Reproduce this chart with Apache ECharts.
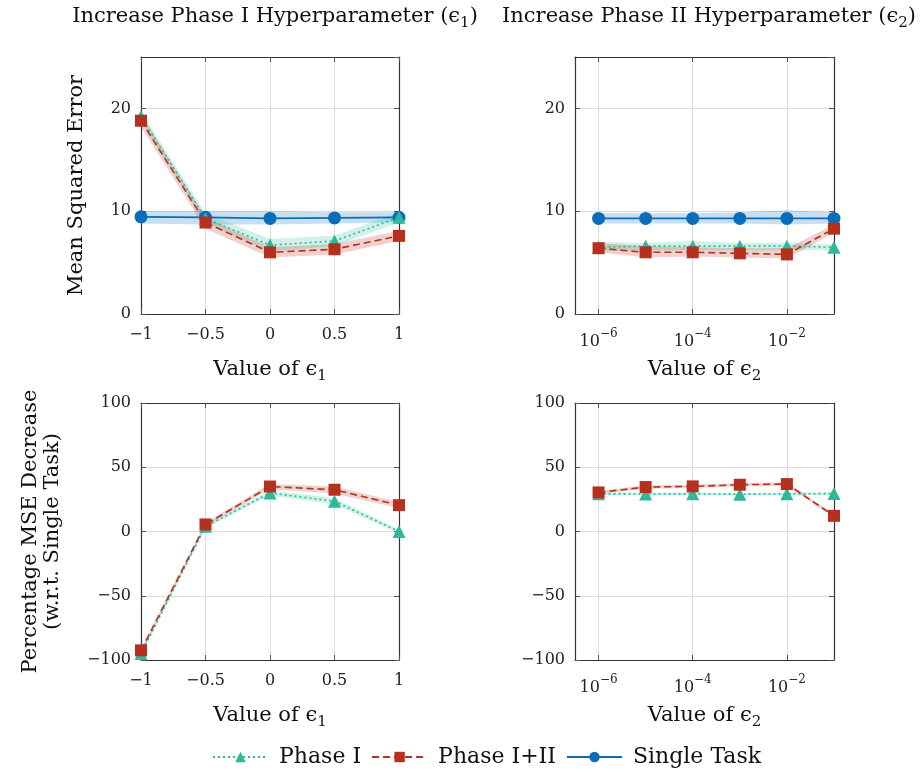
<!DOCTYPE html>
<html>
<head>
<meta charset="utf-8">
<script src="https://cdn.jsdelivr.net/npm/echarts@6/dist/echarts.min.js"></script>
<style>
  html, body { margin: 0; padding: 0; background: #fff; }
  #main { width: 920px; height: 772px; }
</style>
</head>
<body>
<div id="main"></div>
<script>
// x values
var epsOne = [-1, -0.5, 0, 0.5, 1];
var epsTwoExp = [-6, -5, -4, -3, -2, -1];   // log10 of epsilon 2
var epsTwoTicks = [-6, -4, -2];

// MSE vs eps1
var mseA_p1 = [19.2, 9.3, 6.7, 7.1, 9.4];
var mseA_p1Lo = [18.7, 8.8, 6.1, 6.6, 8.9];
var mseA_p1Hi = [19.7, 9.8, 7.3, 7.6, 9.9];
var mseA_p12 = [18.8, 8.9, 6.0, 6.3, 7.6];
var mseA_p12Lo = [18.2, 8.3, 5.5, 5.8, 7.1];
var mseA_p12Hi = [19.4, 9.4, 6.5, 6.8, 8.1];
var mseA_st = [9.45, 9.4, 9.3, 9.35, 9.4];
var mseA_stLo = [8.8, 8.7, 8.7, 8.8, 8.9];
var mseA_stHi = [10.0, 10.0, 10.0, 9.9, 9.9];

// MSE vs eps2
var mseB_p1 = [6.5, 6.6, 6.6, 6.6, 6.6, 6.5];
var mseB_p1Lo = [6.1, 6.2, 6.2, 6.2, 6.2, 6.2];
var mseB_p1Hi = [7.0, 6.9, 7.1, 6.9, 6.9, 6.8];
var mseB_p12 = [6.4, 6.0, 6.0, 5.9, 5.8, 8.3];
var mseB_p12Lo = [6.0, 5.5, 5.6, 5.5, 5.4, 7.9];
var mseB_p12Hi = [6.9, 6.6, 6.5, 6.4, 6.4, 8.7];
var mseB_st = [9.3, 9.3, 9.3, 9.3, 9.3, 9.3];
var mseB_stLo = [8.8, 8.8, 8.8, 8.8, 8.7, 8.8];
var mseB_stHi = [9.8, 9.8, 9.8, 9.9, 10.1, 9.9];

// % decrease vs eps1
var pctA_p1 = [-95, 4, 30, 23.5, 0];
var pctA_p1Lo = [-97, 2.5, 28, 21, -1.5];
var pctA_p1Hi = [-93, 5.5, 32, 26, 1.5];
var pctA_p12 = [-92.5, 5.5, 35, 32.5, 20.5];
var pctA_p12Lo = [-94, 4, 33, 29.5, 18];
var pctA_p12Hi = [-91, 7, 37, 35, 23];

// % decrease vs eps2
var pctB_p1 = [29.3, 29.2, 29.3, 29.0, 29.3, 29.5];
var pctB_p1Lo = [28.3, 28.2, 28.3, 28.0, 28.3, 28.5];
var pctB_p1Hi = [30.3, 30.2, 30.3, 30.0, 30.3, 30.5];
var pctB_p12 = [30.4, 34.6, 35.1, 36.4, 36.9, 12.2];
var pctB_p12Lo = [29.2, 33.2, 33.8, 35.0, 35.4, 10.8];
var pctB_p12Hi = [31.6, 36.0, 36.4, 37.8, 38.4, 13.6];

var FONT = 'DejaVu Serif';
var C_P1 = '#2bb99a', C_P12 = '#b5301e', C_ST = '#0a6db9';
var AXIS_C = '#333';

var grids = [
  {left: 141, top: 57, width: 258, height: 257},
  {left: 575, top: 57, width: 259, height: 257},
  {left: 141, top: 403, width: 258, height: 257},
  {left: 575, top: 403, width: 259, height: 257}
];

function minus(v) { return String(v).replace('-', '\u2212'); }

var nameRich = {
  n: {fontFamily: FONT, fontSize: 21, color: '#111', lineHeight: 25, verticalAlign: 'top'},
  s: {fontFamily: FONT, fontSize: 15, color: '#111', lineHeight: 25, verticalAlign: 'bottom'}
};

function xMain(i, logAxis) {
  var ax = {
    gridIndex: i, type: 'value', position: 'bottom',
    axisLine: {show: true, onZero: false, lineStyle: {color: AXIS_C, width: 1.2}},
    axisTick: {show: true, inside: true, length: 5, lineStyle: {color: '#555'}},
    splitLine: {show: true, lineStyle: {color: '#dcdcdc'}},
    axisLabel: {fontFamily: FONT, fontSize: 16, color: '#222', margin: 13},
    nameLocation: 'middle', nameGap: 45,
    nameTextStyle: {rich: nameRich}
  };
  if (logAxis) {
    ax.min = -6.5; ax.max = -1;
    ax.axisTick.customValues = epsTwoTicks;
    ax.axisLabel.customValues = epsTwoTicks;
    ax.axisLabel.margin = 14;
    ax.axisLabel.formatter = function (v) { return '{b|10}{p|\u2212' + Math.abs(v) + '}'; };
    ax.axisLabel.rich = {
      b: {fontFamily: FONT, fontSize: 16, color: '#222', lineHeight: 22, verticalAlign: 'bottom'},
      p: {fontFamily: FONT, fontSize: 12, color: '#222', lineHeight: 22, verticalAlign: 'top'}
    };
    ax.name = '{n|Value of \u03f5}{s|2}';
  } else {
    ax.min = -1; ax.max = 1; ax.interval = 0.5;
    ax.axisLabel.formatter = minus;
    ax.name = '{n|Value of \u03f5}{s|1}';
  }
  return ax;
}

function xMirror(i, logAxis) {
  var ax = {
    gridIndex: i, type: 'value', position: 'top',
    axisLine: {show: true, onZero: false, lineStyle: {color: AXIS_C, width: 1.2}},
    axisTick: {show: true, inside: true, length: 5, lineStyle: {color: '#555'}},
    axisLabel: {show: false}, splitLine: {show: false}
  };
  if (logAxis) {
    ax.min = -6.5; ax.max = -1;
    ax.axisTick.customValues = epsTwoTicks;
    ax.axisLabel.customValues = epsTwoTicks;
  } else {
    ax.min = -1; ax.max = 1; ax.interval = 0.5;
  }
  return ax;
}

function yAxes(i, pct, position, withLabels) {
  return {
    gridIndex: i, type: 'value', position: position,
    min: pct ? -100 : 0, max: pct ? 100 : 25, interval: pct ? 50 : 10,
    axisLine: {show: true, onZero: false, lineStyle: {color: AXIS_C, width: 1.2}},
    axisTick: {show: true, inside: true, length: 5, lineStyle: {color: '#555'}},
    splitLine: {show: withLabels, lineStyle: {color: '#dcdcdc'}},
    axisLabel: {show: withLabels, fontFamily: FONT, fontSize: 16, color: '#222', margin: 10,
      formatter: minus, showMaxLabel: pct}
  };
}

var xAxis = [xMain(0, false), xMain(1, true), xMain(2, false), xMain(3, true),
  xMirror(0, false), xMirror(1, true), xMirror(2, false), xMirror(3, true)];
var yAxis = [yAxes(0, false, 'left', true), yAxes(1, false, 'left', true),
  yAxes(2, true, 'left', true), yAxes(3, true, 'left', true),
  yAxes(0, false, 'right', false), yAxes(1, false, 'right', false),
  yAxes(2, true, 'right', false), yAxes(3, true, 'right', false)];

yAxis[0].name = 'Mean Squared Error';
yAxis[0].nameLocation = 'middle';
yAxis[0].nameGap = 54;
yAxis[0].nameTextStyle = {fontFamily: FONT, fontSize: 21, color: '#111'};
yAxis[2].name = 'Percentage MSE Decrease\n(w.r.t. Single Task)';
yAxis[2].nameLocation = 'middle';
yAxis[2].nameGap = 77;
yAxis[2].nameTextStyle = {fontFamily: FONT, fontSize: 21, color: '#111', lineHeight: 22};

function pairs(xs, ys) { return xs.map(function (x, k) { return [x, ys[k]]; }); }

var series = [];

// shaded spread drawn as one polygon through the axis scales
function band(i, xs, lo, hi, color) {
  series.push({
    type: 'custom', xAxisIndex: i, yAxisIndex: i, silent: true, z: 1,
    data: xs.map(function (x, k) { return [x, lo[k], hi[k]]; }),
    encode: {x: 0, y: [1, 2]},
    renderItem: function (params, api) {
      if (params.dataIndex !== 0) return;
      var pts = [], k;
      for (k = 0; k < xs.length; k++) pts.push(api.coord([api.value(0, k), api.value(2, k)]));
      for (k = xs.length - 1; k >= 0; k--) pts.push(api.coord([api.value(0, k), api.value(1, k)]));
      return {type: 'polygon', shape: {points: pts}, style: {fill: color, opacity: 0.22}};
    }
  });
}

function line(i, name, xs, ys, color, symbol, size, dash) {
  series.push({
    name: name, type: 'line', xAxisIndex: i, yAxisIndex: i,
    data: pairs(xs, ys), symbol: symbol, symbolSize: size,
    itemStyle: {color: color, borderWidth: 0},
    lineStyle: {color: color, width: 1.6, type: dash, cap: 'butt'},
    z: 3
  });
}

// panel A
band(0, epsOne, mseA_stLo, mseA_stHi, C_ST);
band(0, epsOne, mseA_p1Lo, mseA_p1Hi, C_P1);
band(0, epsOne, mseA_p12Lo, mseA_p12Hi, C_P12);
line(0, 'Single Task', epsOne, mseA_st, C_ST, 'circle', 13, 'solid');
line(0, 'Phase I', epsOne, mseA_p1, C_P1, 'triangle', 13, [2, 3]);
line(0, 'Phase I+II', epsOne, mseA_p12, C_P12, 'rect', 12, [7, 4]);

// panel B
band(1, epsTwoExp, mseB_stLo, mseB_stHi, C_ST);
band(1, epsTwoExp, mseB_p1Lo, mseB_p1Hi, C_P1);
band(1, epsTwoExp, mseB_p12Lo, mseB_p12Hi, C_P12);
line(1, 'Single Task', epsTwoExp, mseB_st, C_ST, 'circle', 13, 'solid');
line(1, 'Phase I', epsTwoExp, mseB_p1, C_P1, 'triangle', 13, [2, 3]);
line(1, 'Phase I+II', epsTwoExp, mseB_p12, C_P12, 'rect', 12, [7, 4]);

// panel C
band(2, epsOne, pctA_p1Lo, pctA_p1Hi, C_P1);
band(2, epsOne, pctA_p12Lo, pctA_p12Hi, C_P12);
line(2, 'Phase I', epsOne, pctA_p1, C_P1, 'triangle', 13, [2, 3]);
line(2, 'Phase I+II', epsOne, pctA_p12, C_P12, 'rect', 12, [7, 4]);

// panel D
band(3, epsTwoExp, pctB_p1Lo, pctB_p1Hi, C_P1);
band(3, epsTwoExp, pctB_p12Lo, pctB_p12Hi, C_P12);
line(3, 'Phase I', epsTwoExp, pctB_p1, C_P1, 'triangle', 13, [2, 3]);
line(3, 'Phase I+II', epsTwoExp, pctB_p12, C_P12, 'rect', 12, [7, 4]);

var titleRich = {
  n: {fontFamily: FONT, fontSize: 21, fontWeight: 'normal', color: '#111', lineHeight: 25, verticalAlign: 'top'},
  s: {fontFamily: FONT, fontSize: 15, fontWeight: 'normal', color: '#111', lineHeight: 25, verticalAlign: 'bottom'}
};

var chart = echarts.init(document.getElementById('main'), null, {renderer: 'canvas'});
chart.setOption({
  backgroundColor: '#fff',
  animation: false,
  title: [
    {text: '{n|Increase Phase I Hyperparameter (\u03f5}{s|1}{n|)}', left: 270, top: 1, textAlign: 'center',
      textStyle: {fontWeight: 'normal', rich: titleRich}},
    {text: '{n|Increase Phase II Hyperparameter (\u03f5}{s|2}{n|)}', left: 704, top: 1, textAlign: 'center',
      textStyle: {fontWeight: 'normal', rich: titleRich}}
  ],
  legend: {
    data: ['Phase I', 'Phase I+II', 'Single Task'],
    left: 207, top: 741,
    itemWidth: 55, itemHeight: 13, itemGap: 10,
    textStyle: {fontFamily: FONT, fontSize: 22, color: '#111', padding: [0, 0, 0, 6]},
    selectedMode: false
  },
  grid: grids,
  xAxis: xAxis,
  yAxis: yAxis,
  series: series
});
</script>
</body>
</html>
